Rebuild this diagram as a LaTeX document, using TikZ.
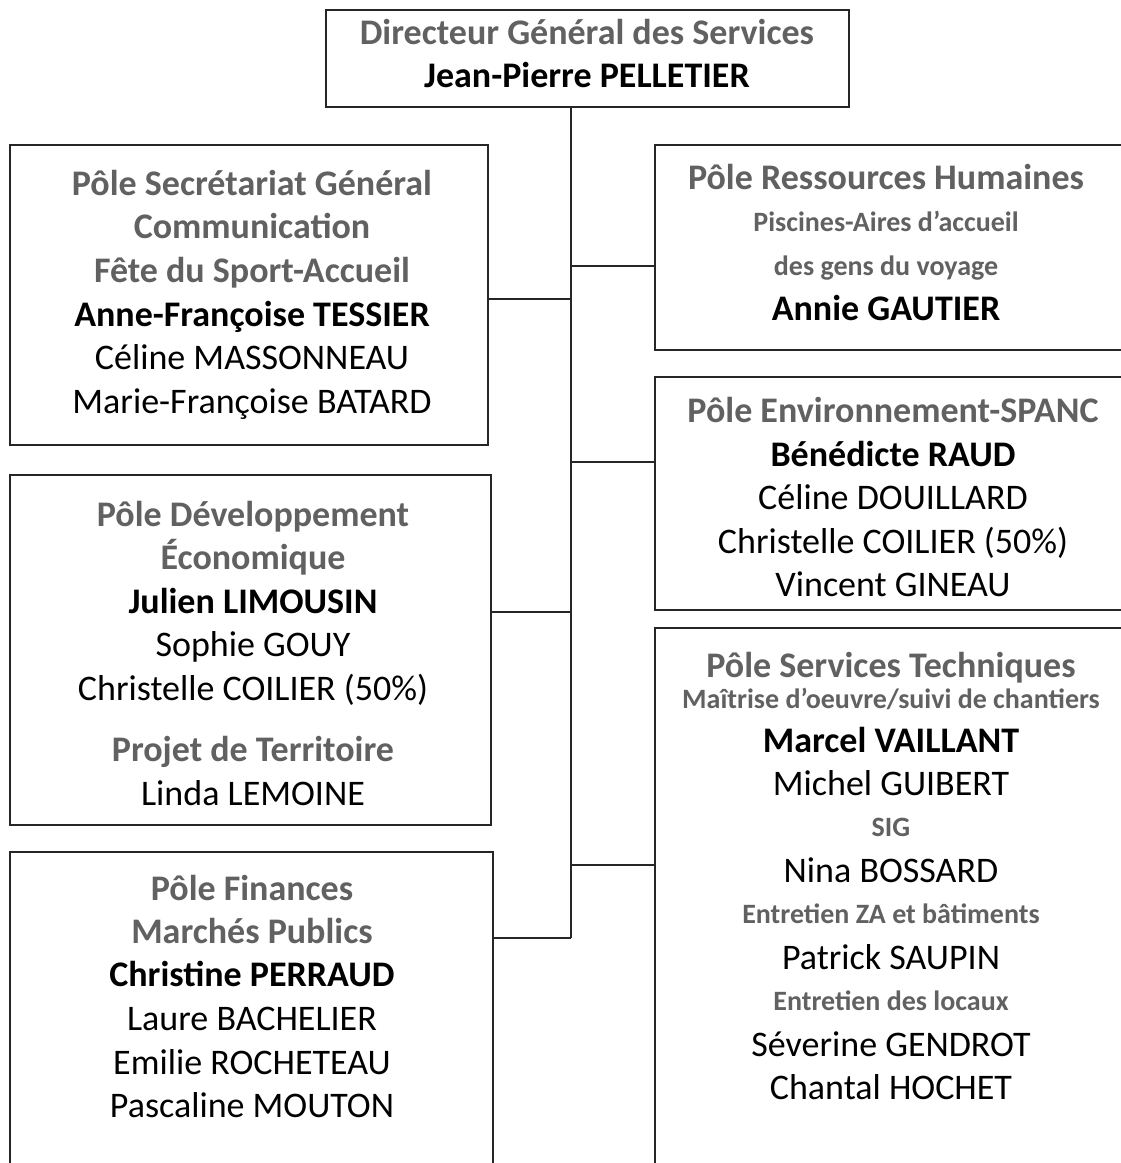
\documentclass[tikz,border=0pt]{standalone}
\usepackage{fontspec}
\setmainfont{Carlito}
\begin{document}
\begin{tikzpicture}[x=1pt,y=-1pt,
  box/.style={draw=black!85, line width=2.5pt, rectangle, inner sep=0pt, outer sep=0pt},
  wire/.style={draw=black!85, line width=2.3pt},
  hd/.style={anchor=base, inner sep=0pt, text=black!62, font=\bfseries\fontsize{36}{40}\selectfont},
  nm/.style={anchor=base, inner sep=0pt, text=black, font=\fontsize{36}{40}\selectfont},
  bnm/.style={anchor=base, inner sep=0pt, text=black, font=\bfseries\fontsize{36}{40}\selectfont},
  sm/.style={anchor=base, inner sep=0pt, text=black!62, font=\bfseries\fontsize{28}{32}\selectfont}]
\useasboundingbox (0,0) rectangle (1121,1163);
\clip (0,0) rectangle (1121,1163);
\fill[white] (0,0) rectangle (1121,1163);

% boxes
\node[box, anchor=north west, minimum width=523pt, minimum height=97pt] (dg) at (326,10) {};
\node[box, anchor=north west, minimum width=478pt, minimum height=300pt] (sg) at (10,145) {};
\node[box, anchor=north west, minimum width=481pt, minimum height=350pt] (de) at (10,475) {};
\node[box, anchor=north west, minimum width=483pt, minimum height=330pt] (fin) at (10,852) {};
\node[box, anchor=north west, minimum width=480pt, minimum height=205pt] (rh) at (655,145) {};
\node[box, anchor=north west, minimum width=480pt, minimum height=233pt] (env) at (655,377) {};
\node[box, anchor=north west, minimum width=480pt, minimum height=550pt] (st) at (655,628) {};

% connectors
\coordinate (trunk) at (571,0);
\coordinate (csg) at (571,299);
\coordinate (crh) at (571,266);
\coordinate (cenv) at (571,462);
\coordinate (cde) at (571,612);
\coordinate (cst) at (571,865);
\coordinate (cfin) at (571,938);
\draw[wire] (dg.south -| trunk) -- (cfin);
\draw[wire] (csg) -- (csg -| sg.east);
\draw[wire] (crh) -- (crh -| rh.west);
\draw[wire] (cenv) -- (cenv -| env.west);
\draw[wire] (cde) -- (cde -| de.east);
\draw[wire] (cst) -- (cst -| st.west);
\draw[wire] (cfin) -- (cfin -| fin.east);

% DG
\node[hd] (dg1) at (587,44) {Directeur Général des Services};
\node[bnm] (dg2) at (587,87) {Jean-Pierre PELLETIER};

% SG
\node[hd] (sg1) at (252,195) {Pôle Secrétariat Général};
\node[hd] (sg2) at (252,238) {Communication};
\node[hd] (sg3) at (252,282) {Fête du Sport-Accueil};
\node[bnm] (sg4) at (252,326) {Anne-Françoise TESSIER};
\node[nm] (sg5) at (252,369) {Céline MASSONNEAU};
\node[nm] (sg6) at (252,413) {Marie-Françoise BATARD};

% DE
\node[hd] (de1) at (253,526) {Pôle Développement};
\node[hd] (de2) at (253,569) {Économique};
\node[bnm] (de3) at (253,613) {Julien LIMOUSIN};
\node[nm] (de4) at (253,656) {Sophie GOUY};
\node[nm] (de5) at (253,700) {Christelle COILIER (50\%)};
\node[hd] (de6) at (253,761) {Projet de Territoire};
\node[nm] (de7) at (253,805) {Linda LEMOINE};

% FIN
\node[hd] (fin1) at (252,900) {Pôle Finances};
\node[hd] (fin2) at (252,943) {Marchés Publics};
\node[bnm] (fin3) at (252,986) {Christine PERRAUD};
\node[nm] (fin4) at (252,1030) {Laure BACHELIER};
\node[nm] (fin5) at (252,1074) {Emilie ROCHETEAU};
\node[nm] (fin6) at (252,1117) {Pascaline MOUTON};

% RH
\node[hd] (rh1) at (886,189) {Pôle Ressources Humaines};
\node[sm] (rh2) at (886,231) {Piscines-Aires d’accueil};
\node[sm] (rh3) at (886,275) {des gens du voyage};
\node[bnm] (rh4) at (886,320) {Annie GAUTIER};

% ENV
\node[hd] (env1) at (893,422) {Pôle Environnement-SPANC};
\node[bnm] (env2) at (893,466) {Bénédicte RAUD};
\node[nm] (env3) at (893,509) {Céline DOUILLARD};
\node[nm] (env4) at (893,553) {Christelle COILIER (50\%)};
\node[nm] (env5) at (893,596) {Vincent GINEAU};

% ST
\node[hd] (st1) at (891,677) {Pôle Services Techniques};
\node[sm] (st2) at (891,708) {Maîtrise d’oeuvre/suivi de chantiers};
\node[bnm] (st3) at (891,752) {Marcel VAILLANT};
\node[nm] (st4) at (891,795) {Michel GUIBERT};
\node[sm] (st5) at (891,836) {SIG};
\node[nm] (st6) at (891,882) {Nina BOSSARD};
\node[sm] (st7) at (891,923) {Entretien ZA et bâtiments};
\node[nm] (st8) at (891,969) {Patrick SAUPIN};
\node[sm] (st9) at (891,1010) {Entretien des locaux};
\node[nm] (st10) at (891,1056) {Séverine GENDROT};
\node[nm] (st11) at (891,1099) {Chantal HOCHET};
\end{tikzpicture}
\end{document}
